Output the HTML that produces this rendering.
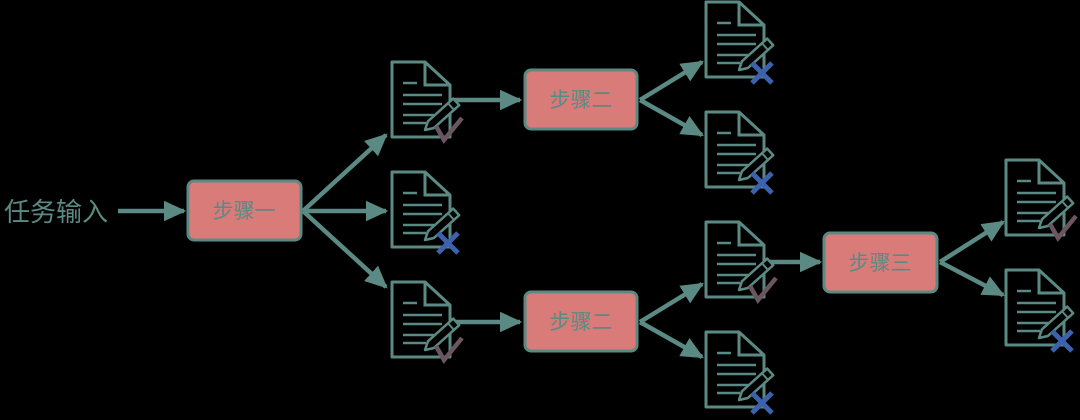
<!DOCTYPE html>
<html><head><meta charset="utf-8"><style>
html,body{margin:0;padding:0;background:#000;}
svg{display:block}
text{font-family:"Liberation Sans","Noto Sans CJK SC",sans-serif;fill:#5b8a84}
</style></head><body>
<svg width="1080" height="420" viewBox="0 0 1080 420" xmlns="http://www.w3.org/2000/svg">
<defs>
<marker id="ah" markerWidth="5" markerHeight="4.6" refX="4.5" refY="2.3" orient="auto" markerUnits="strokeWidth">
<path d="M0,0 L5,2.3 L0,4.6 Z" fill="#5b8a84"/></marker>
<g id="doc" fill="none" stroke="#5b8a84" stroke-width="3">
<path d="M0,0 H33 L58,23 V75 H0 Z" stroke-linejoin="round"/>
<path d="M33,0 V23 H58"/>
<path d="M11,21 H25 M11,33 H50 M11,42 H50 M11,53 H42 M11,61 H34" stroke-width="2.5"/>
<g transform="translate(33,68) rotate(-42)">
<path d="M0,0 L8,-4.5 H42 V4.5 H8 Z" fill="#000" stroke-width="2.5" stroke-linejoin="round"/>
<path d="M35,-4.5 V4.5" stroke-width="2"/>
</g>
</g>
<path id="chk" d="M44,64 L52,78 L70,56" fill="none" stroke="#6b5560" stroke-width="4.5"/>
<path id="crs" d="M46,61 L66,81 M66,61 L46,81" fill="none" stroke="#3c62ad" stroke-width="5"/>
</defs>
<g stroke="#5b8a84" stroke-width="4.5" fill="none" marker-end="url(#ah)">
<line x1="118" y1="211" x2="184" y2="211"/>
<line x1="303" y1="211" x2="386" y2="135"/>
<line x1="303" y1="211" x2="386" y2="211"/>
<line x1="303" y1="211" x2="386" y2="287"/>
<line x1="452" y1="100" x2="520" y2="100"/>
<line x1="452" y1="322" x2="520" y2="322"/>
<line x1="640" y1="100" x2="702" y2="62"/>
<line x1="640" y1="100" x2="702" y2="135"/>
<line x1="640" y1="322" x2="702" y2="284"/>
<line x1="640" y1="322" x2="702" y2="357"/>
<line x1="764" y1="262" x2="820" y2="262"/>
<line x1="940" y1="262" x2="1003" y2="222"/>
<line x1="940" y1="262" x2="1003" y2="295"/>
</g>
<text x="4" y="221" font-size="26">任务输入</text>
<g fill="#d97b78" stroke="#5b8a84" stroke-width="3">
<rect x="188" y="181" width="113" height="59" rx="6"/>
<rect x="525" y="70" width="112" height="59" rx="6"/>
<rect x="525" y="292" width="112" height="59" rx="6"/>
<rect x="824" y="233" width="113" height="59" rx="6"/>
</g>
<g font-size="21" text-anchor="middle">
<text x="244" y="218">步骤一</text>
<text x="581" y="107">步骤二</text>
<text x="581" y="329">步骤二</text>
<text x="880" y="270">步骤三</text>
</g>
<g transform="translate(392,62)"><use href="#doc"/><use href="#chk"/></g>
<g transform="translate(392,172)"><use href="#doc"/><use href="#crs"/></g>
<g transform="translate(392,282)"><use href="#doc"/><use href="#chk"/></g>
<g transform="translate(706,2)"><use href="#doc"/><use href="#crs"/></g>
<g transform="translate(706,112)"><use href="#doc"/><use href="#crs"/></g>
<g transform="translate(706,222)"><use href="#doc"/><use href="#chk"/></g>
<g transform="translate(706,332)"><use href="#doc"/><use href="#crs"/></g>
<g transform="translate(1006,160)"><use href="#doc"/><use href="#chk"/></g>
<g transform="translate(1006,270)"><use href="#doc"/><use href="#crs"/></g>
</svg>
</body></html>
